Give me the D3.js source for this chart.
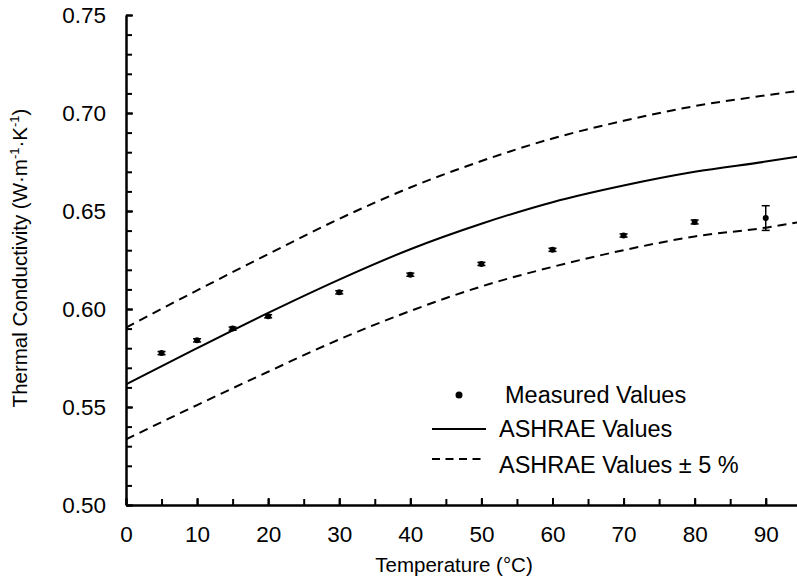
<!DOCTYPE html>
<html>
<head>
<meta charset="utf-8">
<script src="https://cdn.jsdelivr.net/npm/d3@7"></script>
<style>
  body { margin: 0; background: #fff; }
  svg { display: block; font-family: "Liberation Sans", Arial, sans-serif; }
</style>
</head>
<body>
<svg id="chart" width="797" height="585"></svg>
<script>
// ---- data ----
const measuredT = [5, 10, 15, 20, 30, 40, 50, 60, 70, 80, 90];
const measuredK = [0.5775, 0.5840, 0.5900, 0.5963, 0.6085, 0.6175, 0.6230, 0.6302, 0.6375, 0.6444, 0.6464];
const measuredErr = [0.0008, 0.0008, 0.0008, 0.0008, 0.0008, 0.0008, 0.0008, 0.0008, 0.0008, 0.0010, 0.0063];

const curveT = [0, 10, 20, 30, 40, 50, 60, 70, 80, 90, 95];
const ashraeK = [0.5615, 0.5800, 0.5980, 0.6150, 0.6305, 0.6435, 0.6545, 0.6630, 0.6700, 0.6752, 0.6780];
const upperK  = [0.5905, 0.6095, 0.6280, 0.6460, 0.6620, 0.6755, 0.6870, 0.6960, 0.7035, 0.7090, 0.7115];
const lowerK  = [0.5335, 0.5510, 0.5680, 0.5845, 0.5990, 0.6115, 0.6215, 0.6300, 0.6370, 0.6415, 0.6445];

const xMajorTicks = [0, 10, 20, 30, 40, 50, 60, 70, 80, 90];
const yMajorTicks = [0.50, 0.55, 0.60, 0.65, 0.70, 0.75];

const legendLabels = ["Measured Values", "ASHRAE Values", "ASHRAE Values \u00b1 5 %"];

// ---- chart ----
const svg = d3.select("#chart");
const x = d3.scaleLinear().domain([0, 94.4]).range([126, 797]);
const y = d3.scaleLinear().domain([0.5, 0.75]).range([505, 15]);

svg.append("defs").append("clipPath").attr("id", "clip")
  .append("rect").attr("x", 126).attr("y", 0).attr("width", 797 - 126).attr("height", 505);

const xMinor = d3.range(0, 95, 5);
const yMinor = d3.range(0, 26).map(i => 0.5 + i * 0.01);

// x axis
svg.append("g").attr("transform", "translate(0,505)")
  .call(d3.axisBottom(x).tickValues(xMinor).tickSize(-6).tickSizeOuter(0).tickFormat(""))
  .call(g => g.selectAll("line, path").attr("stroke", "#000").attr("stroke-width", 2));
svg.append("g").attr("transform", "translate(0,505)")
  .call(d3.axisBottom(x).tickValues(xMajorTicks).tickSize(-7).tickSizeOuter(0).tickPadding(21).tickFormat(d3.format("d")))
  .call(g => g.selectAll("line, path").attr("stroke", "#000").attr("stroke-width", 2))
  .call(g => g.selectAll("text").attr("fill", "#000").attr("font-size", 22.5).attr("font-family", "Liberation Sans, Arial, sans-serif"));

// y axis
svg.append("g").attr("transform", "translate(126,0)")
  .call(d3.axisLeft(y).tickValues(yMinor).tickSize(-6).tickSizeOuter(0).tickFormat(""))
  .call(g => g.selectAll("line, path").attr("stroke", "#000").attr("stroke-width", 2));
svg.append("g").attr("transform", "translate(126,0)")
  .call(d3.axisLeft(y).tickValues(yMajorTicks).tickSize(-7).tickSizeOuter(0).tickPadding(20).tickFormat(d3.format(".2f")))
  .call(g => g.selectAll("line, path").attr("stroke", "#000").attr("stroke-width", 2))
  .call(g => g.selectAll("text").attr("fill", "#000").attr("font-size", 22.5).attr("font-family", "Liberation Sans, Arial, sans-serif"));

// axis titles
svg.append("text").attr("x", 454).attr("y", 572).attr("text-anchor", "middle")
  .attr("font-size", 20.5).attr("fill", "#000").text("Temperature (\u00b0C)");

const yt = svg.append("text").attr("transform", "translate(27,258) rotate(-90)")
  .attr("text-anchor", "middle").attr("font-size", 20.5).attr("fill", "#000");
yt.append("tspan").text("Thermal Conductivity (W\u00b7m");
yt.append("tspan").attr("font-size", 13).attr("dy", -8).text("-1");
yt.append("tspan").attr("dy", 8).text("\u00b7K");
yt.append("tspan").attr("font-size", 13).attr("dy", -8).text("-1");
yt.append("tspan").attr("dy", 8).text(")");

// curves
const plot = svg.append("g").attr("clip-path", "url(#clip)");
const line = d3.line().x(d => x(d[0])).y(d => y(d[1])).curve(d3.curveMonotoneX);
const series = [
  { k: upperK, dash: "9,6" },
  { k: lowerK, dash: "9,6" },
  { k: ashraeK, dash: null }
];
series.forEach(s => {
  plot.append("path").datum(curveT.map((t, i) => [t, s.k[i]]))
    .attr("d", line).attr("fill", "none").attr("stroke", "#000")
    .attr("stroke-width", 2).attr("stroke-dasharray", s.dash);
});

// measured points with error bars
const pts = measuredT.map((t, i) => ({ t, k: measuredK[i], e: measuredErr[i] }));
const eb = plot.selectAll("g.pt").data(pts).enter().append("g");
eb.append("line").attr("x1", d => x(d.t)).attr("x2", d => x(d.t))
  .attr("y1", d => y(d.k + d.e)).attr("y2", d => y(d.k - d.e)).attr("stroke", "#000").attr("stroke-width", 1.5);
[1, -1].forEach(sg => {
  eb.append("line").attr("x1", d => x(d.t) - 4).attr("x2", d => x(d.t) + 4)
    .attr("y1", d => y(d.k + sg * d.e)).attr("y2", d => y(d.k + sg * d.e))
    .attr("stroke", "#000").attr("stroke-width", 1.5);
});
eb.append("circle").attr("cx", d => x(d.t)).attr("cy", d => y(d.k)).attr("r", 3).attr("fill", "#000");

// legend
const lg = svg.append("g");
lg.append("circle").attr("cx", 459).attr("cy", 395).attr("r", 3.5).attr("fill", "#000");
lg.append("line").attr("x1", 432).attr("x2", 486).attr("y1", 429).attr("y2", 429).attr("stroke", "#000").attr("stroke-width", 2);
lg.append("line").attr("x1", 432).attr("x2", 486).attr("y1", 459).attr("y2", 459).attr("stroke", "#000").attr("stroke-width", 2).attr("stroke-dasharray", "8,5.5");
const lx = [505, 499, 499], ly = [403, 437, 473];
legendLabels.forEach((t, i) => {
  lg.append("text").attr("x", lx[i]).attr("y", ly[i]).attr("font-size", 23.5).attr("fill", "#000").text(t);
});
</script>
</body>
</html>
